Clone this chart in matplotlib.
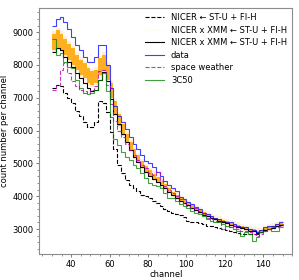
import numpy as np
import matplotlib
matplotlib.use('Agg')
import matplotlib.pyplot as plt
from matplotlib.ticker import AutoMinorLocator

# channel bin edges (2-channel bins)
edges = np.arange(30, 151, 2)

# NICER <- ST-U + FI-H (black dashed)
nicer_stu = [7300, 7400, 7350, 7150, 7000, 6850, 6600, 6450, 6250, 6100,
             6100, 6250, 6900, 6850, 6550, 5950, 5450, 4950, 4700, 4500,
             4350, 4250, 4150, 4050, 4000, 3950, 3850, 3780, 3700, 3620,
             3560, 3500, 3450, 3420, 3380, 3250, 3200, 3200, 3180, 3150,
             3100, 3080, 3060, 3040, 3000, 2980, 2950, 2920, 2880, 2860,
             2850, 2850, 2840, 2850, 2900, 3000, 3050, 3080, 3100, 3150]

# NICER x XMM <- ST-U + FI-H, best fit (black solid)
nxm_best = [8400, 8500, 8450, 8250, 8100, 7950, 7750, 7600, 7450, 7300,
            7200, 7250, 7550, 7780, 7500, 6950, 6500, 6200, 5900, 5650,
            5400, 5200, 5050, 4880, 4740, 4630, 4530, 4440, 4340, 4250,
            4120, 4030, 3940, 3860, 3790, 3720, 3640, 3570, 3510, 3440,
            3390, 3340, 3290, 3250, 3210, 3170, 3130, 3100, 3060, 3020,
            2990, 2950, 2930, 2880, 2900, 2960, 3000, 3040, 3080, 3110]

# NICER x XMM posterior band (orange)
band_lo = [8450, 8500, 8450, 8300, 8150, 8000, 7850, 7700, 7600, 7450,
           7400, 7450, 7700, 7800, 7550, 7000, 6500, 6150, 5880, 5640,
           5400, 5200, 5050, 4880, 4740, 4630, 4530, 4440, 4340, 4250,
           4120, 4030, 3940, 3860, 3790, 3720, 3640, 3570, 3510, 3440,
           3390, 3340, 3290, 3250, 3210, 3170, 3130, 3100, 3060, 3020,
           2990, 2950, 2930, 2880, 2900, 2960, 3000, 3040, 3080, 3110]
band_hi = [8950, 9050, 8950, 8800, 8650, 8500, 8300, 8150, 8050, 7900,
           7800, 7850, 8200, 8300, 8000, 7450, 6900, 6500, 6200, 5900,
           5650, 5430, 5250, 5060, 4910, 4790, 4680, 4580, 4470, 4370,
           4240, 4140, 4040, 3960, 3880, 3810, 3720, 3650, 3590, 3510,
           3460, 3410, 3350, 3310, 3270, 3230, 3190, 3160, 3120, 3080,
           3050, 3010, 2990, 2940, 2960, 3020, 3060, 3100, 3140, 3170]

# data (blue)
data = [9200, 9400, 9450, 9300, 9100, 8850, 8600, 8450, 8250, 8100,
        8100, 8250, 8600, 8600, 8000, 7300, 6750, 6450, 6250, 6050,
        5800, 5580, 5450, 5250, 5080, 5000, 4900, 4750, 4600, 4450,
        4350, 4250, 4150, 3980, 3900, 3820, 3750, 3660, 3600, 3500,
        3450, 3400, 3330, 3300, 3250, 3220, 3200, 3150, 3100, 3070,
        3050, 3010, 2980, 2900, 2980, 3060, 3080, 3100, 3150, 3200]

# space weather (magenta dashed)
space_weather = [7250, 7400, 7850, 8050, 7750, 7500, 7350, 7250, 7200, 7150,
                 7250, 7350, 7800, 7850, 7400, 6800, 6300, 6000, 5800, 5600,
                 5400, 5250, 5100, 4950, 4850, 4700, 4650, 4750, 4500, 4300,
                 4200, 4100, 4000, 3900, 3800, 3700, 3650, 3650, 3550, 3450,
                 3350, 3300, 3250, 3200, 3000, 3100, 3050, 3100, 3000, 2950,
                 2950, 2900, 2850, 2800, 2850, 2950, 3000, 3050, 3050, 3100]

# 3C50 (green)
bkg_3c50 = [8800, 8300, 8350, 8100, 7950, 7900, 7550, 7300, 7150, 7100,
            7150, 7250, 7550, 7750, 7200, 6400, 5750, 5550, 5350, 5200,
            5100, 4950, 4850, 4700, 4550, 4400, 4350, 4300, 4250, 4100,
            3950, 3950, 3850, 3750, 3700, 3650, 3550, 3500, 3450, 3400,
            3300, 3250, 3200, 3200, 3150, 3100, 3050, 3000, 2950, 2800,
            2900, 2850, 2650, 2750, 2900, 2950, 3000, 2950, 2950, 3050]

plt.rcParams['font.size'] = 6.0

fig = plt.figure(figsize=(2.99, 2.80), dpi=100)
ax = fig.add_axes([0.132, 0.093, 0.845, 0.878])

lw = 0.8
ax.stairs(nicer_stu, edges, baseline=None, color='k', ls='--', lw=lw,
          label='NICER ← ST-U + FI-H')
# posterior band
ax.stairs(np.array(band_hi) + 80, edges, baseline=np.array(band_lo) - 60, fill=True,
          color='orange', alpha=0.15, lw=0)
ax.stairs(band_hi, edges, baseline=band_lo, fill=True, color='orange', alpha=0.85, lw=0)
ax.plot([], [], color='orange', alpha=0.05, lw=lw, label='NICER x XMM ← ST-U + FI-H')
ax.stairs(nxm_best, edges, baseline=None, color='k', lw=lw,
          label='NICER x XMM ← ST-U + FI-H')
ax.stairs(data, edges, baseline=None, color='blue', alpha=0.75, lw=lw, label='data')
ax.stairs(space_weather, edges, baseline=None, color='m', ls='--', alpha=0.8, lw=lw,
          label='space weather')
ax.stairs(bkg_3c50, edges, baseline=None, color='green', alpha=0.75, lw=lw, label='3C50')

ax.set_xlim(23.5, 155)
ax.set_ylim(2240, 9730)
ax.set_xticks([40, 60, 80, 100, 120, 140])
ax.set_yticks([3000, 4000, 5000, 6000, 7000, 8000, 9000])
ax.xaxis.set_minor_locator(AutoMinorLocator(4))
ax.yaxis.set_minor_locator(AutoMinorLocator(5))
ax.tick_params(which='major', length=2.5, width=0.6, color='0.4', pad=2)
ax.tick_params(which='minor', length=1.3, width=0.5, color='0.4')
for s in ax.spines.values():
    s.set_color('0.55')
    s.set_linewidth(0.8)

ax.set_xlabel('channel', labelpad=0.5)
ax.set_ylabel('count number per channel', labelpad=2.5)
ax.legend(loc='upper right', frameon=False, handlelength=2.3, labelspacing=0.42,
          handletextpad=0.8, borderaxespad=0.2)

fig.savefig('out.png', dpi=100)
